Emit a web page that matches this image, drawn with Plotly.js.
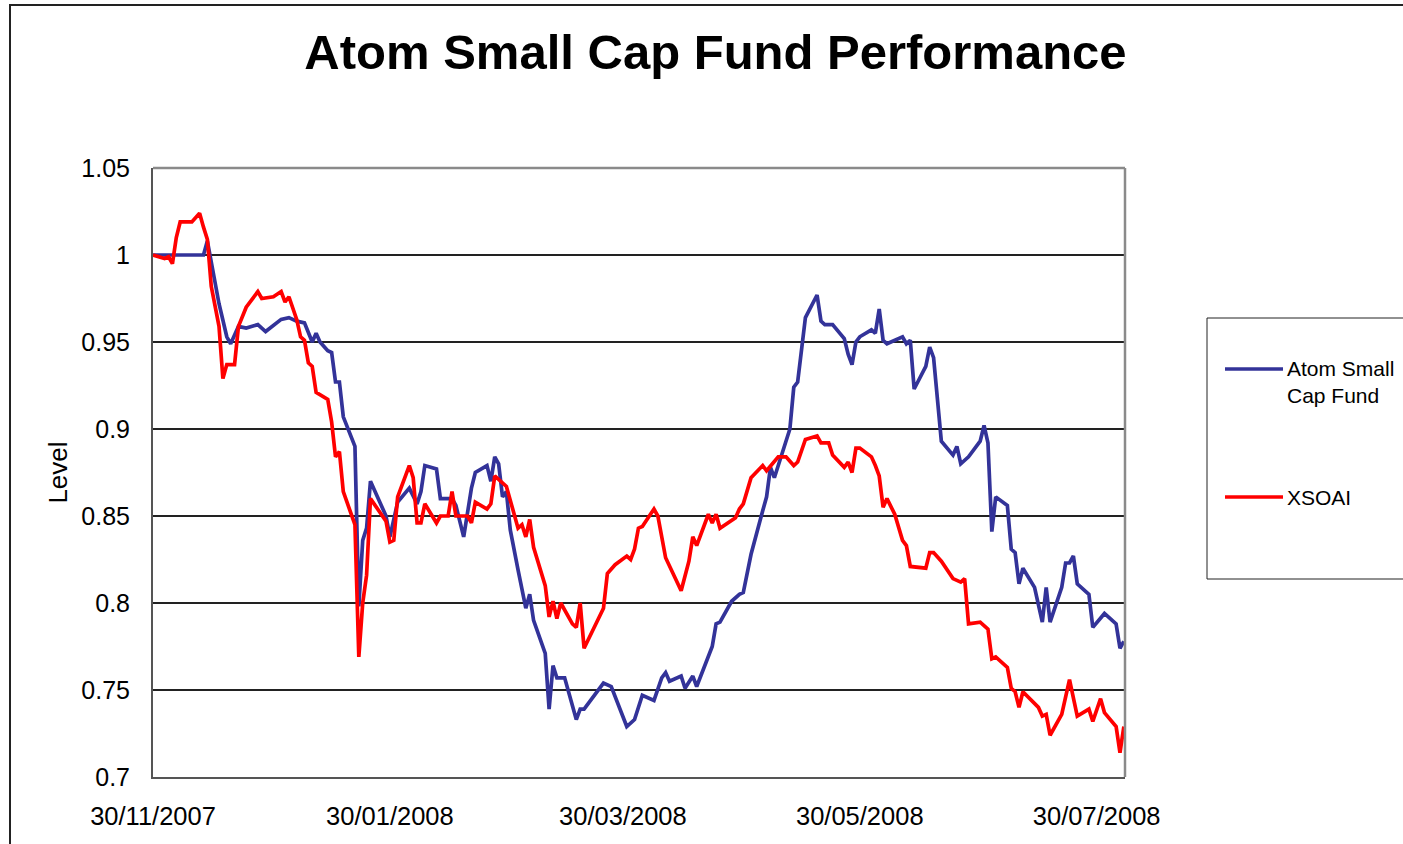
<!DOCTYPE html>
<html>
<head>
<meta charset="utf-8">
<script src="https://cdn.plot.ly/plotly-3.0.1.min.js"></script>
<style>html,body{margin:0;padding:0;background:#fff;}#chart{width:1403px;height:844px;}</style>
</head>
<body>
<div id="chart"></div>
<script>
// ---- Data ----
const atomDates = [
  "2007-11-30","2007-12-13","2007-12-14","2007-12-17","2007-12-19","2007-12-20","2007-12-22","2007-12-24","2007-12-27","2007-12-29",
  "2008-01-02","2008-01-04","2008-01-06","2008-01-08","2008-01-10","2008-01-11","2008-01-12","2008-01-14","2008-01-15","2008-01-16",
  "2008-01-17","2008-01-18","2008-01-21","2008-01-22","2008-01-23","2008-01-24","2008-01-25","2008-01-29","2008-01-30","2008-02-01",
  "2008-02-04","2008-02-06","2008-02-07","2008-02-08","2008-02-11","2008-02-12","2008-02-15","2008-02-16","2008-02-18","2008-02-20",
  "2008-02-21","2008-02-24","2008-02-25","2008-02-26","2008-02-27","2008-02-28","2008-02-29","2008-03-01","2008-03-03","2008-03-05",
  "2008-03-06","2008-03-07","2008-03-10","2008-03-11","2008-03-12","2008-03-13","2008-03-15","2008-03-18","2008-03-19","2008-03-20",
  "2008-03-25","2008-03-27","2008-03-31","2008-04-02","2008-04-04","2008-04-07","2008-04-09","2008-04-10","2008-04-11","2008-04-14",
  "2008-04-15","2008-04-17","2008-04-18","2008-04-22","2008-04-23","2008-04-24","2008-04-27","2008-04-29","2008-04-30","2008-05-02",
  "2008-05-05","2008-05-06","2008-05-07","2008-05-08","2008-05-12","2008-05-13","2008-05-14","2008-05-15","2008-05-16","2008-05-19",
  "2008-05-20","2008-05-21","2008-05-23","2008-05-26","2008-05-27","2008-05-28","2008-05-29","2008-05-30","2008-06-02","2008-06-03",
  "2008-06-04","2008-06-05","2008-06-06","2008-06-10","2008-06-11","2008-06-12","2008-06-13","2008-06-16","2008-06-17","2008-06-18",
  "2008-06-20","2008-06-23","2008-06-24","2008-06-25","2008-06-27","2008-06-30","2008-07-01","2008-07-02","2008-07-03","2008-07-04",
  "2008-07-07","2008-07-08","2008-07-09","2008-07-10","2008-07-11","2008-07-14","2008-07-16","2008-07-17","2008-07-18","2008-07-21",
  "2008-07-22","2008-07-23","2008-07-24","2008-07-25","2008-07-28","2008-07-29","2008-08-01","2008-08-04","2008-08-05","2008-08-06"
];
const atomValues = [
  1.000,1.000,1.008,0.972,0.953,0.949,0.959,0.958,0.960,0.956,
  0.963,0.964,0.962,0.961,0.950,0.955,0.950,0.945,0.944,0.927,
  0.927,0.907,0.890,0.798,0.836,0.843,0.870,0.850,0.838,0.858,
  0.866,0.857,0.864,0.879,0.877,0.860,0.860,0.856,0.838,0.866,
  0.875,0.879,0.870,0.884,0.880,0.861,0.864,0.842,0.819,0.797,
  0.805,0.790,0.771,0.739,0.764,0.757,0.757,0.733,0.739,0.739,
  0.754,0.752,0.729,0.733,0.747,0.744,0.757,0.760,0.755,0.758,
  0.751,0.758,0.752,0.775,0.788,0.789,0.801,0.805,0.806,0.828,
  0.853,0.861,0.878,0.872,0.900,0.924,0.927,0.945,0.964,0.977,
  0.962,0.960,0.960,0.952,0.943,0.937,0.950,0.953,0.957,0.955,
  0.969,0.951,0.949,0.953,0.949,0.951,0.923,0.936,0.947,0.941,
  0.893,0.885,0.890,0.880,0.884,0.893,0.902,0.892,0.841,0.861,
  0.856,0.831,0.829,0.811,0.820,0.809,0.789,0.809,0.789,0.809,
  0.823,0.823,0.827,0.811,0.805,0.786,0.794,0.788,0.774,0.778
];

const xsoaiDates = [
  "2007-11-30","2007-12-03","2007-12-04","2007-12-05","2007-12-06","2007-12-07","2007-12-10","2007-12-12","2007-12-13","2007-12-14",
  "2007-12-15","2007-12-17","2007-12-18","2007-12-19","2007-12-21","2007-12-22","2007-12-24","2007-12-27","2007-12-28","2007-12-31",
  "2008-01-02","2008-01-03","2008-01-04","2008-01-06","2008-01-07","2008-01-08","2008-01-09","2008-01-10","2008-01-11","2008-01-14",
  "2008-01-15","2008-01-16","2008-01-17","2008-01-18","2008-01-21","2008-01-22","2008-01-23","2008-01-24","2008-01-25","2008-01-29",
  "2008-01-30","2008-01-31","2008-02-01","2008-02-04","2008-02-05","2008-02-06","2008-02-07","2008-02-08","2008-02-11","2008-02-12",
  "2008-02-14","2008-02-15","2008-02-16","2008-02-19","2008-02-20","2008-02-21","2008-02-24","2008-02-25","2008-02-26","2008-02-28",
  "2008-02-29","2008-03-03","2008-03-04","2008-03-05","2008-03-06","2008-03-07","2008-03-10","2008-03-11","2008-03-12","2008-03-13",
  "2008-03-14","2008-03-17","2008-03-18","2008-03-19","2008-03-20","2008-03-25","2008-03-26","2008-03-28","2008-03-31","2008-04-01",
  "2008-04-02","2008-04-03","2008-04-04","2008-04-07","2008-04-08","2008-04-10","2008-04-14","2008-04-16","2008-04-17","2008-04-18",
  "2008-04-21","2008-04-22","2008-04-23","2008-04-24","2008-04-28","2008-04-29","2008-04-30","2008-05-02","2008-05-05","2008-05-06",
  "2008-05-09","2008-05-11","2008-05-13","2008-05-14","2008-05-16","2008-05-19","2008-05-20","2008-05-22","2008-05-23","2008-05-26",
  "2008-05-27","2008-05-28","2008-05-29","2008-05-30","2008-06-02","2008-06-03","2008-06-04","2008-06-05","2008-06-06","2008-06-08",
  "2008-06-10","2008-06-11","2008-06-12","2008-06-16","2008-06-17","2008-06-18","2008-06-20","2008-06-23","2008-06-25","2008-06-26",
  "2008-06-27","2008-06-30","2008-07-02","2008-07-03","2008-07-04","2008-07-07","2008-07-08","2008-07-09","2008-07-10","2008-07-11",
  "2008-07-15","2008-07-16","2008-07-17","2008-07-18","2008-07-21","2008-07-23","2008-07-25","2008-07-28","2008-07-29","2008-07-31",
  "2008-08-01","2008-08-04","2008-08-05","2008-08-06"
];
const xsoaiValues = [
  1.000,0.998,0.999,0.995,1.010,1.019,1.019,1.024,1.016,1.009,
  0.982,0.959,0.929,0.937,0.937,0.959,0.970,0.979,0.975,0.976,
  0.979,0.973,0.976,0.963,0.953,0.951,0.938,0.936,0.921,0.917,
  0.904,0.884,0.887,0.864,0.845,0.769,0.800,0.816,0.860,0.847,
  0.835,0.836,0.861,0.879,0.872,0.846,0.846,0.857,0.846,0.850,
  0.850,0.864,0.850,0.850,0.846,0.858,0.854,0.857,0.873,0.869,
  0.867,0.843,0.845,0.838,0.848,0.832,0.810,0.792,0.801,0.791,
  0.800,0.788,0.786,0.800,0.774,0.797,0.817,0.822,0.827,0.825,
  0.831,0.843,0.844,0.854,0.850,0.826,0.807,0.824,0.838,0.833,
  0.851,0.846,0.851,0.843,0.849,0.854,0.857,0.872,0.879,0.876,
  0.884,0.884,0.879,0.881,0.894,0.896,0.892,0.892,0.885,0.878,
  0.881,0.875,0.889,0.889,0.884,0.879,0.873,0.855,0.860,0.851,
  0.836,0.833,0.821,0.820,0.829,0.829,0.824,0.814,0.812,0.814,
  0.788,0.789,0.785,0.768,0.769,0.763,0.751,0.749,0.740,0.749,
  0.740,0.735,0.736,0.724,0.736,0.756,0.735,0.739,0.732,0.745,
  0.737,0.729,0.714,0.729
];

const seriesNames = ["Atom Small Cap Fund", "XSOAI"];
const legendLabels = ["Atom Small<br>Cap Fund", "XSOAI"];
const xTickVals = ["2007-11-30","2008-01-30","2008-03-30","2008-05-30","2008-07-30"];
const xTickLabels = ["30/11/2007","30/01/2008","30/03/2008","30/05/2008","30/07/2008"];
const yTickVals = [0.7,0.75,0.8,0.85,0.9,0.95,1,1.05];
const yTickLabels = ["0.7","0.75","0.8","0.85","0.9","0.95","1","1.05"];

// ---- Styling ----
const W = 1403, H = 844;
const M = {l:153, r:278, t:168, b:67};
const PW = W - M.l - M.r, PH = H - M.t - M.b;
const px = x => (x - M.l) / PW;
const py = y => (H - M.b - y) / PH;
const FONT = "Liberation Sans, Arial, Helvetica, sans-serif";
const BLUE = "#333399", RED = "#FF0000";
const LW = 3.7;

const traces = [
  {x: atomDates, y: atomValues, name: seriesNames[0], type: "scatter", mode: "lines",
   line: {color: BLUE, width: LW}, showlegend: false},
  {x: xsoaiDates, y: xsoaiValues, name: seriesNames[1], type: "scatter", mode: "lines",
   line: {color: RED, width: LW}, showlegend: false}
];

const layout = {
  width: W, height: H,
  margin: M,
  paper_bgcolor: "#fff", plot_bgcolor: "#fff",
  font: {family: FONT, color: "#000"},
  title: {text: "Atom Small Cap Fund Performance", x: 715.5 / W, xanchor: "center",
          xref: "container", yref: "container", y: 1 - 52 / H, yanchor: "middle",
          font: {family: FONT, size: 49, weight: "bold", color: "#000"}},
  xaxis: {type: "date", range: ["2007-11-30", "2008-08-06 07:00"],
          tickmode: "array", tickvals: xTickVals, ticktext: xTickLabels,
          showgrid: false, zeroline: false, showline: true, linecolor: "#555", linewidth: 2,
          ticks: "", ticklabelstandoff: 15, tickfont: {family: FONT, size: 25.5, color: "#000"}},
  yaxis: {range: [0.7, 1.05], tickmode: "array", tickvals: yTickVals, ticktext: yTickLabels,
          showgrid: true, gridcolor: "#222", gridwidth: 1.3, zeroline: false,
          showline: true, linecolor: "#555", linewidth: 2,
          ticks: "", ticklabelstandoff: 16, tickfont: {family: FONT, size: 25, color: "#000"},
          title: {text: "Level", standoff: 6, font: {family: FONT, size: 26, color: "#000"}}},
  shapes: [
    // chart-area frame
    {type: "rect", xref: "paper", yref: "paper", x0: px(10), x1: px(1420), y0: py(5), y1: py(860),
     line: {color: "#222", width: 2}, fillcolor: "rgba(0,0,0,0)", layer: "below"},
    // plot-area top & right border
    {type: "line", xref: "paper", yref: "paper", x0: 0, x1: 1, y0: 1, y1: 1, line: {color: "#8a8a8a", width: 2.5}},
    {type: "line", xref: "paper", yref: "paper", x0: 1, x1: 1, y0: 0, y1: 1, line: {color: "#8a8a8a", width: 2.5}},
    // legend box
    {type: "rect", xref: "paper", yref: "paper", x0: px(1207), x1: px(1420), y0: py(318), y1: py(579),
     line: {color: "#222", width: 1}, fillcolor: "rgba(0,0,0,0)"},
    {type: "line", xref: "paper", yref: "paper", x0: px(1225), x1: px(1283), y0: py(369), y1: py(369),
     line: {color: BLUE, width: LW}},
    {type: "line", xref: "paper", yref: "paper", x0: px(1225), x1: px(1283), y0: py(497), y1: py(497),
     line: {color: RED, width: LW}}
  ],
  annotations: [
    {xref: "paper", yref: "paper", x: px(1285), y: py(382), xanchor: "left", yanchor: "middle",
     text: legendLabels[0], showarrow: false, align: "left",
     font: {family: FONT, size: 21, color: "#000"}},
    {xref: "paper", yref: "paper", x: px(1285), y: py(497), xanchor: "left", yanchor: "middle",
     text: legendLabels[1], showarrow: false, align: "left",
     font: {family: FONT, size: 21, color: "#000"}}
  ]
};

Plotly.newPlot("chart", traces, layout, {displayModeBar: false, staticPlot: true});
</script>
</body>
</html>
